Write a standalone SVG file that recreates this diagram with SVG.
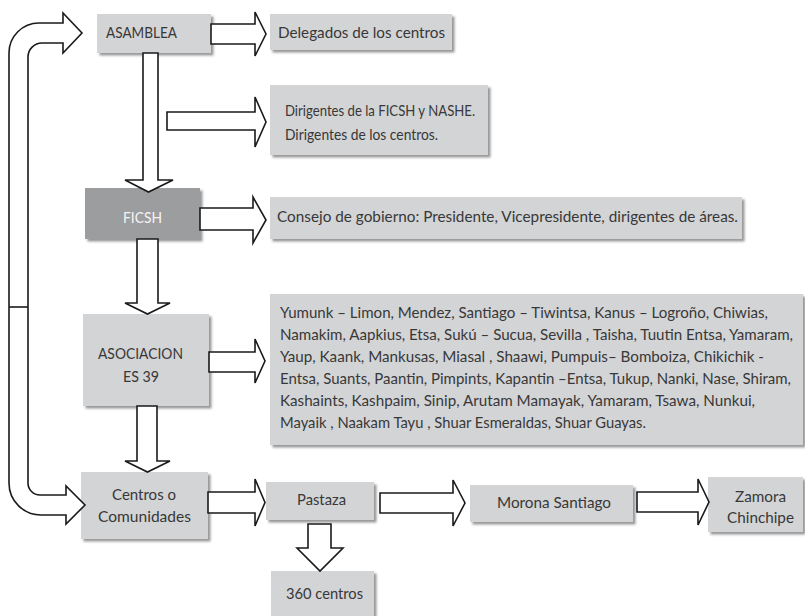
<svg xmlns="http://www.w3.org/2000/svg" width="805" height="616" viewBox="0 0 805 616">
<defs>
<filter id="sh" x="-5%" y="-10%" width="115%" height="130%">
<feDropShadow dx="2.5" dy="2.5" stdDeviation="1.2" flood-color="#444" flood-opacity="0.55"/>
</filter>
</defs>
<style>
.box{fill:#d3d4d6;filter:url(#sh)}
.dark{fill:#9c9d9f;filter:url(#sh)}
text{font-family:Lato,"Open Sans","Liberation Sans",sans-serif;font-size:15px;fill:#383838}
.c{text-anchor:middle}
.w{fill:#f4f4f4}
.arr{fill:#fff;stroke:#1a1a1a;stroke-width:1.6;stroke-linejoin:miter}
</style>
<rect width="805" height="616" fill="#fff"/>

<g id="asamblea">
<rect class="box" x="97" y="14" width="114" height="39"/>
<text x="106" y="38" textLength="71" lengthAdjust="spacingAndGlyphs">ASAMBLEA</text>
</g>
<g id="delegados">
<rect class="box" x="270" y="14" width="182" height="36"/>
<text x="278" y="38" textLength="167" lengthAdjust="spacingAndGlyphs">Delegados de los centros</text>
</g>
<g id="dirigentes">
<rect class="box" x="270" y="85" width="218" height="70"/>
<text x="285" y="116" textLength="190" lengthAdjust="spacingAndGlyphs">Dirigentes de la FICSH y NASHE.</text>
<text x="285" y="140" textLength="153" lengthAdjust="spacingAndGlyphs">Dirigentes de los centros.</text>
</g>
<g id="ficsh">
<rect class="dark" x="85" y="188" width="115" height="51"/>
<text class="c w" x="142.5" y="223" textLength="39" lengthAdjust="spacingAndGlyphs">FICSH</text>
</g>
<g id="consejo">
<rect class="box" x="270" y="197" width="472" height="42"/>
<text x="277" y="222" textLength="461" lengthAdjust="spacingAndGlyphs">Consejo de gobierno: Presidente, Vicepresidente, dirigentes de áreas.</text>
</g>
<g id="asociacion">
<rect class="box" x="83" y="314" width="126" height="92"/>
<text class="c" x="140.5" y="359" textLength="85" lengthAdjust="spacingAndGlyphs">ASOCIACION</text>
<text class="c" x="141" y="382" textLength="36" lengthAdjust="spacingAndGlyphs">ES 39</text>
</g>
<g id="lista">
<rect class="box" x="270" y="294" width="533" height="151"/>
<text x="280" y="318" textLength="488" lengthAdjust="spacingAndGlyphs">Yumunk – Limon, Mendez, Santiago – Tiwintsa, Kanus – Logroño, Chiwias,</text>
<text x="280" y="340" textLength="513" lengthAdjust="spacingAndGlyphs">Namakim, Aapkius, Etsa, Sukú – Sucua, Sevilla , Taisha, Tuutin Entsa, Yamaram,</text>
<text x="280" y="362" textLength="484" lengthAdjust="spacingAndGlyphs">Yaup, Kaank, Mankusas, Miasal , Shaawi, Pumpuis– Bomboiza, Chikichik  -</text>
<text x="280" y="384" textLength="511" lengthAdjust="spacingAndGlyphs">Entsa, Suants, Paantin, Pimpints, Kapantin –Entsa, Tukup, Nanki, Nase, Shiram,</text>
<text x="280" y="406" textLength="475" lengthAdjust="spacingAndGlyphs">Kashaints, Kashpaim, Sinip, Arutam Mamayak, Yamaram, Tsawa, Nunkui,</text>
<text x="280" y="428" textLength="366" lengthAdjust="spacingAndGlyphs">Mayaik , Naakam Tayu , Shuar Esmeraldas, Shuar Guayas.</text>
</g>
<g id="centros">
<rect class="box" x="81" y="472" width="127" height="67"/>
<text class="c" x="144" y="500" textLength="64" lengthAdjust="spacingAndGlyphs">Centros o</text>
<text class="c" x="144.5" y="522" textLength="93" lengthAdjust="spacingAndGlyphs">Comunidades</text>
</g>
<g id="pastaza">
<rect class="box" x="266" y="482" width="108" height="38"/>
<text class="c" x="321.5" y="505" textLength="49" lengthAdjust="spacingAndGlyphs">Pastaza</text>
</g>
<g id="c360">
<rect class="box" x="271" y="571" width="103" height="50"/>
<text class="c" x="324.5" y="599" textLength="77" lengthAdjust="spacingAndGlyphs">360 centros</text>
</g>
<g id="morona">
<rect class="box" x="470" y="485" width="163" height="37"/>
<text class="c" x="554" y="508" textLength="114" lengthAdjust="spacingAndGlyphs">Morona Santiago</text>
</g>
<g id="zamora">
<rect class="box" x="708" y="477" width="95" height="55"/>
<text class="c" x="760.5" y="502" textLength="51" lengthAdjust="spacingAndGlyphs">Zamora</text>
<text class="c" x="760.5" y="523" textLength="67" lengthAdjust="spacingAndGlyphs">Chinchipe</text>
</g>

<g id="connectors">
<path class="arr" d="M63,43 V53 L82,33 L63,13 V23 H39 A30,30 0 0 0 9,53 V483 A32,32 0 0 0 41,515 H66 V524 L85,505 L66,486 V495 H40 A12,12 0 0 1 28,483 V57 A14,14 0 0 1 42,43 Z"/>
<line x1="9" y1="307" x2="28" y2="307" stroke="#1a1a1a" stroke-width="1.6"/>
<path class="arr" d="M211,24 H255 V12 L266,34 L255,56 V44 H211 Z"/>
<path class="arr" d="M143,53 V180 H125 L148.5,192 L173,180 H158 V53 Z"/>
<path class="arr" d="M167,112 H255 V97 L266,122 L255,147 V130 H167 Z"/>
<path class="arr" d="M200,208 H253 V197 L266,220 L253,243 V230 H200 Z"/>
<path class="arr" d="M137,239 V303 H125 L147.5,314 L170,303 H158 V239 Z"/>
<path class="arr" d="M209,352 H255 V339 L265,361 L255,383 V372 H209 Z"/>
<path class="arr" d="M137,406 V461 H125 L147.5,472 L170,461 H157 V406 Z"/>
<path class="arr" d="M208,492 H255 V479 L265,502.5 L255,526 V513 H208 Z"/>
<path class="arr" d="M380,493 H453 V480 L465,503 L453,526 V513 H380 Z"/>
<path class="arr" d="M308,524 V548 H297 L320,571 L343,548 H331 V524 Z"/>
<path class="arr" d="M637,492 H698 V479 L709,502 L698,525 V512 H637 Z"/>
</g>
</svg>
